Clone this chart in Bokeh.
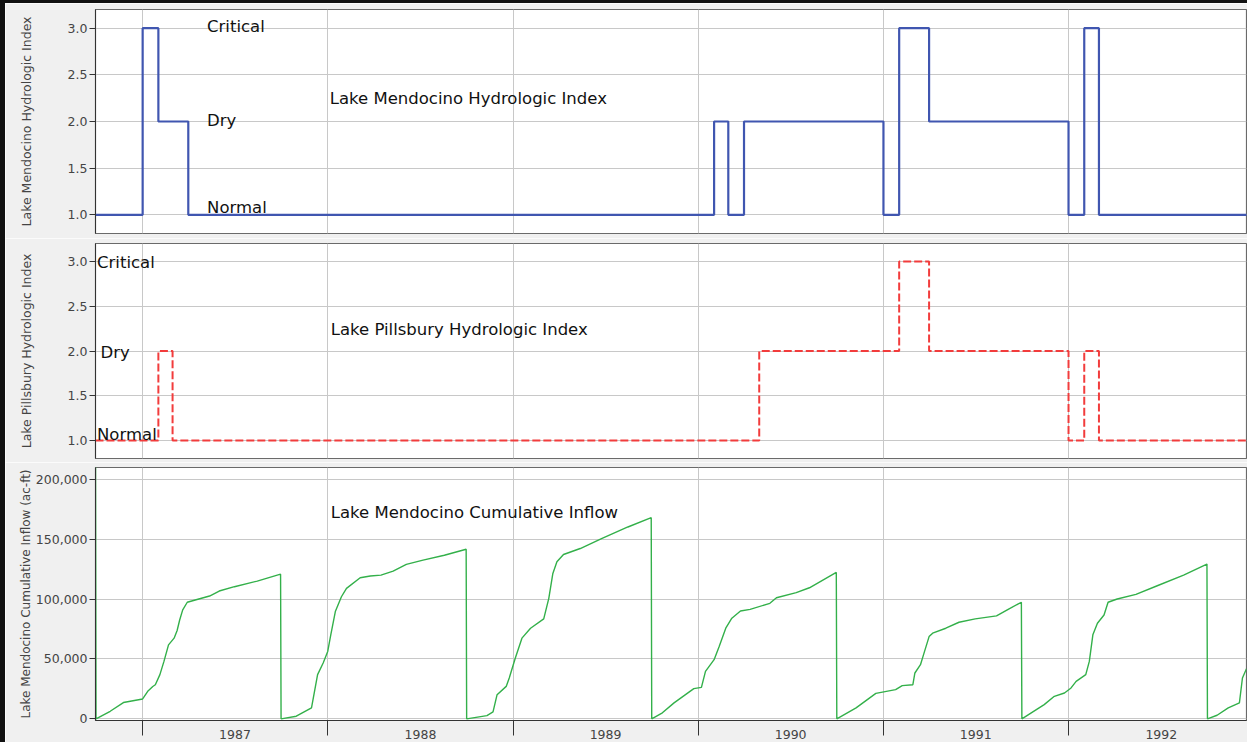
import pandas as pd
from bokeh.plotting import figure
from bokeh.layouts import column, row
from bokeh.models import Range1d, FixedTicker, NumeralTickFormatter, DatetimeTickFormatter, Label, Div
from bokeh.embed import file_html
from bokeh.resources import INLINE

# ------------------------------------------------------------------ data
year_labels = ["1987", "1988", "1989", "1990", "1991", "1992"]
year_starts = ["1987-01-01", "1988-01-01", "1989-01-01", "1990-01-01", "1991-01-01", "1992-01-01"]

index_ticks = [1.0, 1.5, 2.0, 2.5, 3.0]
inflow_ticks = [0, 50000, 100000, 150000, 200000]

mendocino_index_dates = ["1986-09-30", "1987-01-01", "1987-02-01", "1987-04-01", "1990-02-01",
                         "1990-03-01", "1990-04-01", "1991-01-01", "1991-02-01", "1991-04-01",
                         "1992-01-01", "1992-02-01", "1992-03-01", "1992-12-31"]
mendocino_index = [1, 3, 2, 1, 2, 1, 2, 1, 3, 2, 1, 3, 1, 1]

pillsbury_index_dates = ["1986-09-30", "1987-02-01", "1987-03-01", "1990-05-01", "1991-02-01",
                         "1991-04-01", "1992-01-01", "1992-02-01", "1992-03-01", "1992-12-31"]
pillsbury_index = [1, 2, 1, 2, 3, 2, 1, 2, 1, 1]

inflow_dates = [
    "1986-09-30", "1986-10-01", "1986-10-29", "1986-11-24", "1987-01-01", "1987-01-11", "1987-01-21",
    "1987-01-26", "1987-02-04", "1987-02-12", "1987-02-21", "1987-03-04", "1987-03-10", "1987-03-15",
    "1987-03-21", "1987-03-30", "1987-04-20", "1987-05-13", "1987-06-01", "1987-07-01", "1987-08-15",
    "1987-09-30",
    "1987-10-01", "1987-10-31", "1987-11-30", "1987-12-12", "1987-12-23", "1988-01-01", "1988-01-07",
    "1988-01-16", "1988-01-28", "1988-02-07", "1988-03-05", "1988-03-25", "1988-04-15", "1988-05-09",
    "1988-06-04", "1988-07-07", "1988-08-18", "1988-09-30",
    "1988-10-01", "1988-11-10", "1988-11-22", "1988-11-30", "1988-12-18", "1988-12-24", "1989-01-05",
    "1989-01-18", "1989-02-04", "1989-03-02", "1989-03-12", "1989-03-20", "1989-03-28", "1989-04-10",
    "1989-05-13", "1989-06-24", "1989-08-15", "1989-09-30",
    "1989-10-01", "1989-10-22", "1989-11-14", "1989-12-23", "1990-01-07", "1990-01-15", "1990-02-01",
    "1990-02-11", "1990-02-24", "1990-03-08", "1990-03-25", "1990-04-13", "1990-05-22", "1990-06-04",
    "1990-07-13", "1990-08-08", "1990-09-30",
    "1990-10-01", "1990-11-08", "1990-12-17", "1991-01-25", "1991-02-07", "1991-02-28", "1991-03-04",
    "1991-03-15", "1991-03-22", "1991-04-01", "1991-04-08", "1991-05-04", "1991-05-30", "1991-07-01",
    "1991-08-12", "1991-09-04", "1991-09-30",
    "1991-10-01", "1991-11-14", "1991-12-04", "1991-12-24", "1992-01-06", "1992-01-16", "1992-02-04",
    "1992-02-11", "1992-02-18", "1992-02-27", "1992-03-11", "1992-03-19", "1992-04-06", "1992-05-13",
    "1992-06-24", "1992-08-15", "1992-09-30",
    "1992-10-01", "1992-10-20", "1992-11-11", "1992-12-03", "1992-12-09", "1992-12-17"]
inflow_acft = [
    230000, 0, 6300, 13600, 16600, 23000, 27000, 28500, 36900, 48000, 61800, 67400, 73800, 82600,
    91000, 97400, 99900, 102600, 106800, 110400, 115100, 120900,
    0, 2200, 9200, 36900, 46600, 56300, 70200, 89600, 102000, 109000, 117900, 119300, 120100,
    123400, 129000, 132600, 136700, 141700,
    0, 2700, 5800, 20200, 27100, 34100, 50800, 67400, 75700, 83500, 100700, 121500, 131200, 137300,
    142300, 150600, 160300, 168100,
    0, 5000, 13300, 25200, 26300, 39600, 49400, 60400, 75700, 84100, 90100, 91500, 96500, 101200,
    105400, 109500, 122300,
    0, 9200, 21300, 24400, 27700, 28500, 38300, 45200, 54900, 68700, 71600, 75700, 80700, 83500,
    86000, 91500, 97400,
    0, 11900, 18800, 21600, 25800, 31300, 36900, 48000, 70200, 79900, 86800, 97400, 100100, 104000,
    111200, 120100, 129300,
    0, 3000, 9200, 13300, 34100, 41900]

# ------------------------------------------------------------------ style
FONT = "DejaVu Sans"
BG = "#f0f0f0"
GRID = "#c8c8c8"
AXIS = "#333333"
TICK_TXT = "#444444"
FIG_W = 1242


def ms(s):
    return pd.Timestamp(s).value // 10**6


start_ms = [ms(s) for s in year_starts]
mid_ms = [ms(f"{y}-07-02") for y in year_labels]

x_range = Range1d(start=pd.Timestamp("1986-09-30"), end=pd.Timestamp("1992-12-17"))


def make_fig(height, top, bottom, y_range, show_x):
    p = figure(width=FIG_W, height=height, x_range=x_range, y_range=y_range,
               x_axis_type="datetime", x_axis_location="below" if show_x else None,
               title=None, toolbar_location=None, output_backend="svg",
               min_border_left=90, min_border_right=1, min_border_top=top, min_border_bottom=bottom,
               background_fill_color="white", border_fill_color=BG,
               outline_line_color="#6a6a6a", outline_line_width=1.2)
    p.xgrid.ticker = FixedTicker(ticks=start_ms)
    p.xgrid.grid_line_color = GRID
    p.ygrid.grid_line_color = GRID
    return p


def style_y(p, ticks, fmt, label, label_standoff, label_size="12.5px"):
    ax = p.yaxis[0]
    ax.ticker = FixedTicker(ticks=ticks)
    ax.formatter = NumeralTickFormatter(format=fmt)
    ax.axis_label = label
    ax.axis_label_text_font = FONT
    ax.axis_label_text_font_size = label_size
    ax.axis_label_text_font_style = "normal"
    ax.axis_label_text_color = TICK_TXT
    ax.axis_label_standoff = label_standoff
    ax.major_label_text_font = FONT
    ax.major_label_text_font_size = "12.5px"
    ax.major_label_text_color = TICK_TXT
    ax.major_label_standoff = 2
    ax.major_tick_out = 6
    ax.major_tick_in = 0
    ax.minor_tick_out = 0
    ax.minor_tick_in = 0
    ax.axis_line_color = AXIS
    ax.major_tick_line_color = AXIS


def add_label(p, x, y, text, size="16.5px"):
    p.add_layout(Label(x=ms(x), y=y, text=text, text_font=FONT, text_font_size=size,
                       text_color="#111111", text_baseline="middle", text_align="left"))


# ---- panel 1: Lake Mendocino hydrologic index
p1 = make_fig(235, 6, 5, Range1d(0.8, 3.2), False)
style_y(p1, index_ticks, "0.0", "Lake Mendocino Hydrologic Index", 31)
p1.step(x=pd.to_datetime(mendocino_index_dates), y=mendocino_index, mode="after",
        line_color="#4056b0", line_width=2.2)
add_label(p1, "1987-05-08", 3.023, "Critical")
add_label(p1, "1987-05-08", 2.007, "Dry")
add_label(p1, "1987-05-08", 1.074, "Normal")
add_label(p1, "1988-01-05", 2.248, "Lake Mendocino Hydrologic Index")

# ---- panel 2: Lake Pillsbury hydrologic index
p2 = make_fig(224, 5, 4, Range1d(0.8, 3.2), False)
style_y(p2, index_ticks, "0.0", "Lake Pillsbury Hydrologic Index", 31)
p2.step(x=pd.to_datetime(pillsbury_index_dates), y=pillsbury_index, mode="after",
        line_color="#f23c3c", line_width=2.0, line_dash="8 3")
add_label(p2, "1986-10-03", 2.987, "Critical")
add_label(p2, "1986-10-10", 1.987, "Dry")
add_label(p2, "1986-10-03", 1.068, "Normal")
add_label(p2, "1988-01-07", 2.237, "Lake Pillsbury Hydrologic Index")

# ---- panel 3: Lake Mendocino cumulative inflow
p3 = make_fig(280, 5, 22, Range1d(-1400, 210000), True)
style_y(p3, inflow_ticks, "0,0", "Lake Mendocino Cumulative Inflow (ac-ft)", 0, "12px")
p3.line(x=pd.to_datetime(inflow_dates), y=inflow_acft, line_color="#33b04a", line_width=1.4)
add_label(p3, "1988-01-07", 172800, "Lake Mendocino Cumulative Inflow")

xa = p3.xaxis[0]
xa.ticker = FixedTicker(ticks=mid_ms, minor_ticks=start_ms)
xa.formatter = DatetimeTickFormatter(years="%Y", months="%Y", days="%Y", hours="%Y",
                                     hourmin="%Y", minutes="%Y", minsec="%Y", seconds="%Y",
                                     milliseconds="%Y", microseconds="%Y")
xa.major_tick_out = 0
xa.major_tick_in = 0
xa.minor_tick_out = 15
xa.minor_tick_in = 0
xa.minor_tick_line_color = AXIS
xa.axis_line_color = AXIS
xa.major_label_standoff = -6
xa.major_label_text_font = FONT
xa.major_label_text_font_size = "12.5px"
xa.major_label_text_color = TICK_TXT

# outer black frame edges (left and top), as in the reference screenshot
left_edge = Div(text="", width=5, height=739, margin=0, styles={"background-color": "#111111"})
top_edge = Div(text="", width=5 + FIG_W, height=3, margin=0, styles={"background-color": "#111111"})

layout = column(top_edge, row(left_edge, column(p1, p2, p3, spacing=0), spacing=0), spacing=0)

with open("out.html", "w") as f:
    f.write(file_html(layout, INLINE))
